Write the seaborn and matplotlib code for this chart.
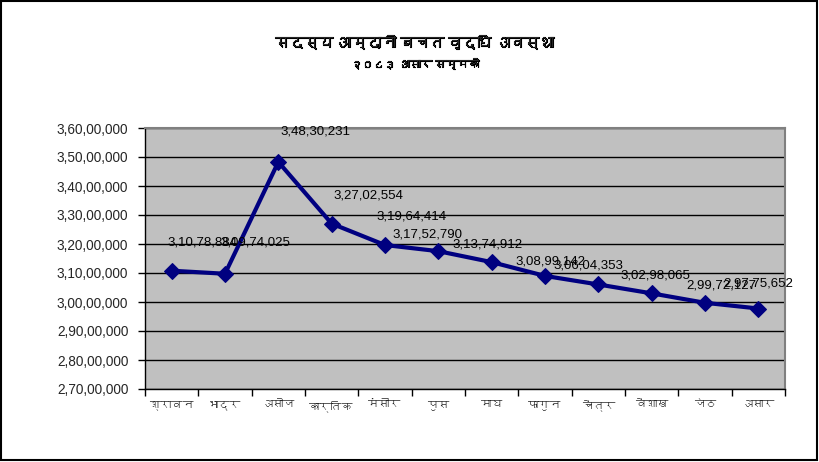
import matplotlib
matplotlib.use("Agg")
import numpy as np
import pandas as pd
import matplotlib.pyplot as plt
import matplotlib.patheffects as pe
from matplotlib import font_manager
from matplotlib.ticker import FuncFormatter, FixedLocator
from matplotlib.patches import Rectangle
import seaborn as sns

#%% Data

title = 'सदस्य आम्दानी बचत वृद्धि अवस्था'
subtitle = '२०८३ असार सम्मको'
months = ['श्रावन', 'भाद्र', 'असोज', 'कार्तिक', 'मंसीर', 'पुस',
          'माघ', 'फागुन', 'चैत्र', 'वैशाख', 'जेठ', 'असार']
savings = [31078884, 30974025, 34830231, 32702554, 31964414, 31752790,
           31374912, 30899142, 30604353, 30298065, 29972127, 29775652]
y_ticks = list(range(27000000, 36000001, 1000000))

# label offsets (pixels, centre of label relative to the point)
label_dx = [31, 30, 37, 37, 27, -11, -4, 5, -10, 4, 16, 0]
label_dy = [28, 31, 30, 28, 29, 17, 18, 14, 19, 18, 17, 25]

#%% Helpers


def find_deva_font():
    # look for any installed font that has Devanagari glyphs
    from fontTools.ttLib import TTFont
    for f in font_manager.fontManager.ttflist:
        try:
            tt = TTFont(f.fname, fontNumber=0, lazy=True)
            cmap = tt.getBestCmap()
            if cmap and 0x0915 in cmap:
                return f.name
        except Exception:
            continue
    return None


def indian(n, pos=None):
    s = str(int(round(n)))
    head, tail = s[:-3], s[-3:]
    parts = []
    while len(head) > 2:
        parts.insert(0, head[-2:])
        head = head[:-2]
    if head:
        parts.insert(0, head)
    return ','.join(parts + [tail])


#%% Plot

sns.set_style("white")
deva = find_deva_font()
families = ['Liberation Sans']
if deva:
    families.append(deva)
families.append('DejaVu Sans')
plt.rcParams['font.family'] = families

df = pd.DataFrame({'month': months, 'savings': savings})

fig = plt.figure(figsize=(8.19, 4.62), dpi=100)
ax = fig.add_axes([145 / 819, 73 / 462, 640 / 819, 261 / 462])
ax.set_facecolor('#c0c0c0')

sns.lineplot(data=df, x='month', y='savings', sort=False, color='#000080',
             lw=3, marker='D', markersize=8, markeredgecolor='#000080',
             ax=ax, zorder=3)

for i, (m, v) in enumerate(zip(months, savings)):
    ax.annotate(indian(v), (i, v), xytext=(label_dx[i], label_dy[i]),
                textcoords='offset pixels', ha='center', va='center',
                fontsize=9.5, color='black', zorder=4,
                annotation_clip=False)

ax.set_ylim(y_ticks[0], y_ticks[-1])
ax.set_xlim(-0.5, len(months) - 0.5)
ax.yaxis.set_major_locator(FixedLocator(y_ticks))
ax.yaxis.set_major_formatter(FuncFormatter(indian))
ax.yaxis.grid(True, color='black', lw=1)
ax.set_axisbelow(True)

ax.set_xticks(range(len(months)))
ax.set_xticklabels(months)
ax.xaxis.set_minor_locator(FixedLocator(np.arange(-0.5, len(months), 1)))
ax.tick_params(axis='x', which='major', length=0, pad=8, labelsize=8)
ax.tick_params(axis='x', which='minor', length=5, width=1, direction='out',
               color='black', bottom=True)
ax.tick_params(axis='y', length=5, width=1, direction='out', color='black',
               left=True, pad=7, labelsize=9.8)

ax.set_xlabel('')
ax.set_ylabel('')
for side in ['left', 'bottom']:
    ax.spines[side].set_color('black')
    ax.spines[side].set_linewidth(1)
for side in ['top', 'right']:
    ax.spines[side].set_color('#808080')
    ax.spines[side].set_linewidth(1.5)

# the Devanagari font has no bold face, so thicken it with a stroke
bold = [pe.withStroke(linewidth=0.8, foreground='black')]
fig.text(415 / 819, 1 - 43 / 462, title, ha='center', va='center',
         fontsize=10.5, weight='bold', path_effects=bold)
fig.text(415 / 819, 1 - 64 / 462, subtitle, ha='center', va='center',
         fontsize=8, weight='bold', path_effects=bold)

# border round the chart
fig.patches.append(Rectangle((0.8 / 819, 1.6 / 462), 816.2 / 819, 459.6 / 462,
                             transform=fig.transFigure, fill=False,
                             edgecolor='black', lw=1.5))

fig.savefig('out.png', dpi=100)
